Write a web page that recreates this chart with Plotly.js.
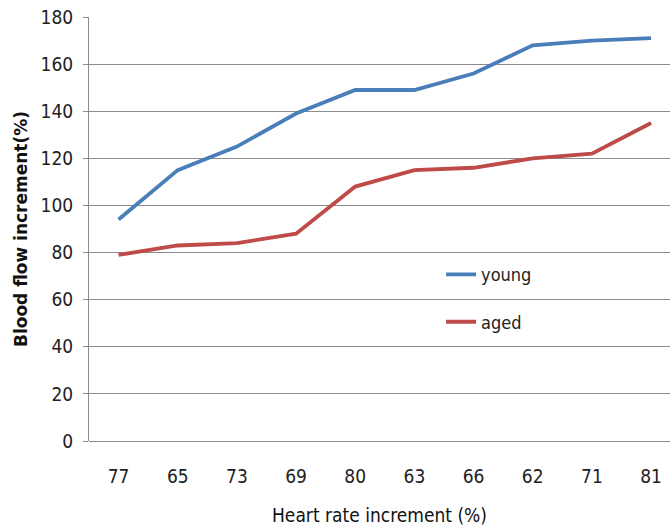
<!DOCTYPE html>
<html><head><meta charset="utf-8">
<script src="https://cdn.plot.ly/plotly-3.0.1.min.js"></script>
<style>body{margin:0;background:#fff}#c{width:670px;height:531px}</style>
</head><body><div id="c"></div>
<script>
const categories = ["77","65","73","69","80","63","66","62","71","81"];
const young = [94,115,125,139,149,149,156,168,170,171];
const aged = [79,83,84,88,108,115,116,120,122,135];
const yTicks = [0,20,40,60,80,100,120,140,160,180];

const narrow = '"DejaVu Sans Condensed", "Liberation Sans Narrow", sans-serif';
const traces = [
  {x: categories, y: young, name: 'young', type: 'scatter', mode: 'lines',
   line: {color: '#4a7ebb', width: 3.8}, legendgroup: 'a'},
  {x: categories, y: aged, name: 'aged', type: 'scatter', mode: 'lines',
   line: {color: '#be4b48', width: 3.8}, legendgroup: 'b'}
];
const layout = {
  width: 670, height: 531,
  margin: {l: 89, r: 0, t: 17, b: 90},
  paper_bgcolor: '#fff', plot_bgcolor: '#fff',
  showlegend: true,
  legend: {x: 0.606, y: 0.436, xanchor: 'left', yanchor: 'top',
    font: {family: narrow, size: 18, color: '#222'}, tracegroupgap: 21,
    bgcolor: 'rgba(0,0,0,0)'},
  xaxis: {type: 'category', range: [-0.5, 9.32], showgrid: false,
    showline: false, zeroline: false, ticks: '',
    tickfont: {family: narrow, size: 19, color: '#222'}, ticklabelstandoff: 22,
    title: {text: 'Heart rate increment (%)', font: {family: narrow, size: 19, color: '#111'}, standoff: 22}},
  yaxis: {range: [0, 180], tickvals: yTicks, showgrid: true, gridcolor: '#8c8c8c', gridwidth: 1,
    showline: true, linecolor: '#8c8c8c', linewidth: 1, zeroline: true, zerolinecolor: '#8c8c8c', zerolinewidth: 1,
    ticks: 'outside', ticklen: 5, tickcolor: '#8c8c8c',
    tickfont: {family: narrow, size: 19, color: '#222'}, ticklabelstandoff: 6,
    title: {text: '<b>Blood flow increment(%)</b>', font: {family: '"DejaVu Sans", Verdana, sans-serif', size: 17, color: '#111'}, standoff: 8}}
};
Plotly.newPlot('c', traces, layout, {displayModeBar: false});
</script></body></html>
